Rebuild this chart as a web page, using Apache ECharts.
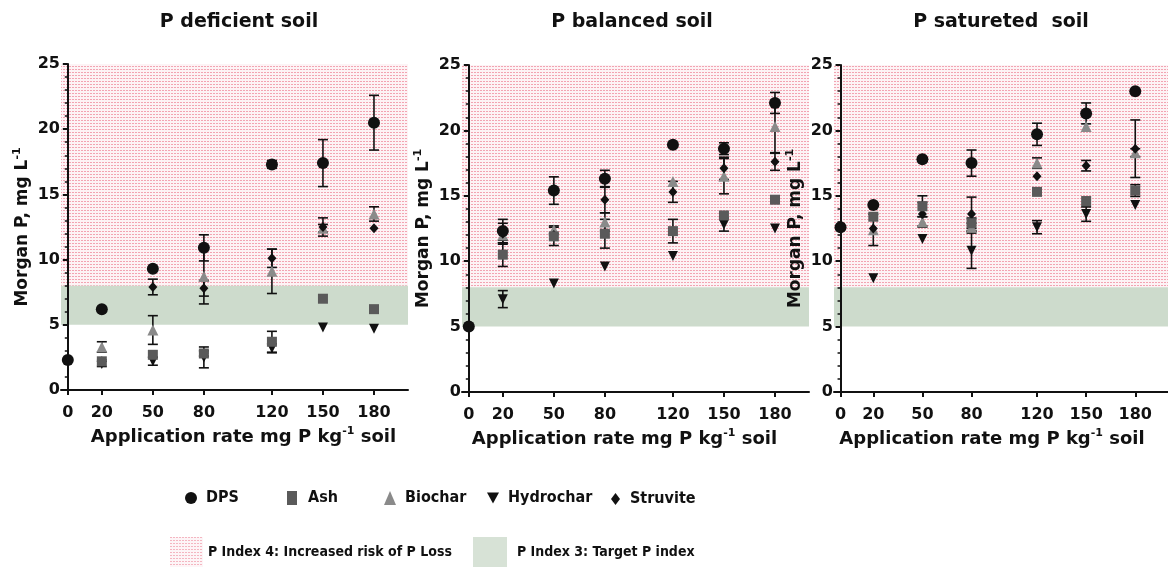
<!DOCTYPE html>
<html>
<head>
<meta charset="utf-8">
<script src="https://cdn.jsdelivr.net/npm/echarts@6/dist/echarts.min.js"></script>
<style>
  html, body { margin: 0; padding: 0; background: #fff; }
  #chart { width: 1168px; height: 568px; }
</style>
</head>
<body>
<div id="chart"></div>
<script>
  // application rates (mg P / kg soil)
  var rates = [0, 20, 50, 80, 120, 150, 180];
  var titles = ['P deficient soil', 'P balanced soil', 'P satureted  soil'];
  var treatments = ['DPS', 'Ash', 'Biochar', 'Hydrochar', 'Struvite'];

  // P deficient soil: means and error (mg/L)
  var deficientDPS = [2.3, 6.2, 9.3, 10.9, 17.3, 17.4, 20.5];
  var deficientDPSErr = [0, 0, 0, 1.0, 0.3, 1.8, 2.1];
  var deficientAsh = [null, 2.2, 2.7, 2.8, 3.7, 7.0, 6.2];
  var deficientAshErr = [0, 0, 0, 0.2, 0.8, 0, 0];
  var deficientBiochar = [null, 3.3, 4.6, 8.7, 9.1, 12.4, 13.5];
  var deficientBiocharErr = [0, 0.4, 1.1, 2.1, 1.7, 0.3, 0.55];
  var deficientHydrochar = [null, 2.0, 2.2, 2.5, 3.2, 4.8, 4.7];
  var deficientHydrocharErr = [0, 0.2, 0.3, 0.8, 0.35, 0, 0];
  var deficientStruvite = [null, 2.2, 7.9, 7.8, 10.1, 12.5, 12.4];
  var deficientStruviteErr = [0, 0, 0.6, 0.6, 0.7, 0.7, 0];

  // P balanced soil
  var balancedDPS = [5.0, 12.3, 15.4, 16.3, 18.9, 18.6, 22.1];
  var balancedDPSErr = [0, 0.9, 1.05, 0.65, 0, 0.45, 0.8];
  var balancedAsh = [null, 10.5, 11.9, 12.1, 12.3, 13.5, 14.7];
  var balancedAshErr = [0, 0.9, 0.7, 1.1, 0.9, 0, 0];
  var balancedBiochar = [null, 12.0, 12.4, 13.0, 16.1, 16.5, 20.3];
  var balancedBiocharErr = [0, 0.4, 0.3, 0.7, 0, 1.35, 2.0];
  var balancedHydrochar = [null, 7.1, 8.3, 9.6, 10.4, 12.8, 12.5];
  var balancedHydrocharErr = [0, 0.65, 0, 0, 0, 0.5, 0];
  var balancedStruvite = [null, 12.1, 12.0, 14.7, 15.3, 17.1, 17.6];
  var balancedStruviteErr = [0, 0.8, 0, 1.0, 0.8, 0.85, 0.65];

  // P saturated soil
  var saturatedDPS = [12.6, 14.3, 17.8, 17.5, 19.7, 21.3, 23.0];
  var saturatedDPSErr = [0, 0, 0, 1.0, 0.85, 0.8, 0];
  var saturatedAsh = [null, 13.4, 14.2, 12.9, 15.3, 14.6, 15.4];
  var saturatedAshErr = [0, 0, 0.8, 0.4, 0, 0, 0.45];
  var saturatedBiochar = [null, 12.4, 13.0, 12.6, 17.5, 20.3, 18.3];
  var saturatedBiocharErr = [0, 1.2, 0.4, 0.3, 0.4, 0, 0.3];
  var saturatedHydrochar = [null, 8.7, 11.7, 10.8, 12.6, 13.6, 14.3];
  var saturatedHydrocharErr = [0, 0, 0, 1.35, 0.5, 0.55, 0];
  var saturatedStruvite = [null, 12.5, 13.6, 13.6, 16.5, 17.3, 18.6];
  var saturatedStruviteErr = [0, 0, 0.9, 1.3, 0, 0.4, 2.2];

  // P index bands (mg/L)
  var index3Band = [5, 8];
  var index4Band = [8, 25];

  var panelData = [
    { DPS: [deficientDPS, deficientDPSErr], Ash: [deficientAsh, deficientAshErr], Biochar: [deficientBiochar, deficientBiocharErr], Hydrochar: [deficientHydrochar, deficientHydrocharErr], Struvite: [deficientStruvite, deficientStruviteErr] },
    { DPS: [balancedDPS, balancedDPSErr], Ash: [balancedAsh, balancedAshErr], Biochar: [balancedBiochar, balancedBiocharErr], Hydrochar: [balancedHydrochar, balancedHydrocharErr], Struvite: [balancedStruvite, balancedStruviteErr] },
    { DPS: [saturatedDPS, saturatedDPSErr], Ash: [saturatedAsh, saturatedAshErr], Biochar: [saturatedBiochar, saturatedBiocharErr], Hydrochar: [saturatedHydrochar, saturatedHydrocharErr], Struvite: [saturatedStruvite, saturatedStruviteErr] }
  ];

  var FONT = '"DejaVu Sans", Arial, sans-serif';
  var LEGEND_FONT = '"DejaVu Sans Condensed", "Liberation Sans Narrow", Arial, sans-serif';
  var INDEX4 = 'P Index 4: Increased risk of P Loss';
  var INDEX3 = 'P Index 3: Target P index';
  var GREEN = '#cddbcc';

  var looks = {
    DPS: { symbol: 'circle', size: 12, color: '#111' },
    Ash: { symbol: 'rect', size: 10, color: '#5a5a5a' },
    Biochar: { symbol: 'triangle', size: 11, color: '#8a8a8a' },
    Hydrochar: { symbol: 'path://M0,0L10,0L5,9Z', size: 10, color: '#111' },
    Struvite: { symbol: 'diamond', size: [9, 10], color: '#111' }
  };
  // drawing order, later on top
  var drawOrder = ['Hydrochar', 'Biochar', 'Struvite', 'Ash', 'DPS'];

  // dotted pink fill
  var cv = document.createElement('canvas');
  cv.width = 3; cv.height = 3;
  var g = cv.getContext('2d');
  g.fillStyle = '#fdf3f5'; g.fillRect(0, 0, 3, 3);
  g.fillStyle = '#f2a4b2'; g.fillRect(0, 0, 2, 1);
  var dotted = { image: cv, repeat: 'repeat' };

  var gridBoxes = [
    { left: 61, top: 64, width: 347, height: 326 },
    { left: 462, top: 65, width: 347, height: 327 },
    { left: 834, top: 65, width: 347, height: 327 }
  ];
  var titleX = [239, 632, 1001];
  var yNameGap = [23, 17, 20];
  var xNamePad = [[0, 0, 0, 18], [0, 22, 0, 0], [0, 18, 0, 0]];

  function errorBars(params, api) {
    var x = api.value(0), m = api.value(1), e = api.value(2);
    var hi = api.coord([x, m + e]);
    var lo = api.coord([x, m - e]);
    var cap = 5;
    var st = { stroke: '#111', lineWidth: 1.6 };
    return {
      type: 'group',
      children: [
        { type: 'line', shape: { x1: hi[0], y1: hi[1], x2: lo[0], y2: lo[1] }, style: st },
        { type: 'line', shape: { x1: hi[0] - cap, y1: hi[1], x2: hi[0] + cap, y2: hi[1] }, style: st },
        { type: 'line', shape: { x1: lo[0] - cap, y1: lo[1], x2: lo[0] + cap, y2: lo[1] }, style: st }
      ]
    };
  }

  var supRich = { sup: { fontSize: 11, fontWeight: 'bold', fontFamily: FONT, color: '#111', verticalAlign: 'top', lineHeight: 12 } };

  var grids = [], xAxes = [], yAxes = [], series = [], titleList = [];
  for (var p = 0; p < 3; p++) {
    grids.push(gridBoxes[p]);
    titleList.push({
      text: titles[p], left: titleX[p], top: 13, textAlign: 'center', padding: 0,
      textStyle: { fontFamily: FONT, fontWeight: 'bold', fontSize: 19, color: '#111' }
    });
    xAxes.push({
      gridIndex: p, type: 'value', min: -4, max: 200, z: 4,
      name: 'Application rate mg P kg{sup|-1} soil', nameLocation: 'middle', nameGap: 36,
      nameTextStyle: { fontFamily: FONT, fontWeight: 'bold', fontSize: 18, color: '#111', lineHeight: 22, padding: xNamePad[p], rich: supRich },
      axisLine: { lineStyle: { color: '#111', width: 2 } },
      axisTick: { customValues: rates, length: 5, lineStyle: { color: '#111', width: 2 } },
      axisLabel: { customValues: rates, margin: 15, fontFamily: FONT, fontWeight: 'bold', fontSize: 16, color: '#111' },
      splitLine: { show: false }
    });
    yAxes.push({
      gridIndex: p, type: 'value', min: 0, max: 25, interval: 5, z: 4,
      name: 'Morgan P, mg L{sup|-1}', nameLocation: 'middle', nameGap: yNameGap[p],
      nameTextStyle: { fontFamily: FONT, fontWeight: 'bold', fontSize: 17, color: '#111', lineHeight: 22, rich: supRich },
      axisLine: { show: true, onZero: true, lineStyle: { color: '#111', width: 2 } },
      axisTick: { show: true, length: 5, lineStyle: { color: '#111', width: 2 } },
      minorTick: { show: true, splitNumber: 5, length: 3, lineStyle: { color: '#111', width: 1.5 } },
      axisLabel: { margin: 1, fontFamily: FONT, fontWeight: 'bold', fontSize: 16, color: '#111' },
      splitLine: { show: false }
    });

    // P index bands
    series.push({
      name: INDEX4, type: 'scatter', xAxisIndex: p, yAxisIndex: p, data: [], z: 1,
      itemStyle: { color: '#f2a4b2' },
      markArea: { silent: true, itemStyle: { color: dotted }, data: [[{ xAxis: -4, yAxis: index4Band[0] }, { xAxis: 200, yAxis: index4Band[1] }]] }
    });
    series.push({
      name: INDEX3, type: 'scatter', xAxisIndex: p, yAxisIndex: p, data: [], z: 1,
      itemStyle: { color: GREEN },
      markArea: { silent: true, itemStyle: { color: GREEN }, data: [[{ xAxis: -4, yAxis: index3Band[0] }, { xAxis: 200, yAxis: index3Band[1] }]] }
    });

    drawOrder.forEach(function (t) {
      var means = panelData[p][t][0], errs = panelData[p][t][1];
      var pts = [], bars = [];
      rates.forEach(function (r, i) {
        if (means[i] == null) return;
        pts.push([r, means[i]]);
        if (errs[i] > 0) bars.push([r, means[i], errs[i]]);
      });
      series.push({
        name: t + ' sd', type: 'custom', xAxisIndex: p, yAxisIndex: p, z: 2,
        renderItem: errorBars, encode: { x: 0, y: 1 }, data: bars, silent: true
      });
      series.push({
        name: t, type: 'scatter', xAxisIndex: p, yAxisIndex: p, z: 3,
        symbol: looks[t].symbol, symbolSize: looks[t].size,
        itemStyle: { color: looks[t].color, opacity: 1 }, data: pts
      });
    });
  }

  function legendItem(name, icon, left, top, w, h, pad, size, style) {
    var d = { name: name, icon: icon };
    if (style) d.itemStyle = style;
    return {
      left: left, top: top, padding: 0, itemWidth: w, itemHeight: h, selectedMode: false,
      textStyle: { fontFamily: LEGEND_FONT, fontWeight: 'bold', fontSize: size, color: '#111', padding: [0, 0, 0, pad] },
      data: [d]
    };
  }

  var chart = echarts.init(document.getElementById('chart'));
  chart.setOption({
    animation: false,
    backgroundColor: '#fff',
    title: titleList,
    legend: [
      legendItem('DPS', 'circle', 185, 490, 12, 14, 4, 16),
      legendItem('Ash', 'rect', 287, 490, 10, 14, 6, 16),
      legendItem('Biochar', 'triangle', 384, 490, 12, 14, 4, 16),
      legendItem('Hydrochar', 'path://M0,0L10,0L5,9Z', 487, 490, 12, 14, 4, 16),
      legendItem('Struvite', 'diamond', 611, 491, 9, 12, 5, 16),
      legendItem(INDEX4, 'rect', 170, 537, 33, 30, 0, 14, { color: dotted }),
      legendItem(INDEX3, 'rect', 473, 537, 34, 30, 5, 14, { color: GREEN })
    ],
    grid: grids,
    xAxis: xAxes,
    yAxis: yAxes,
    series: series
  });
</script>
</body>
</html>
